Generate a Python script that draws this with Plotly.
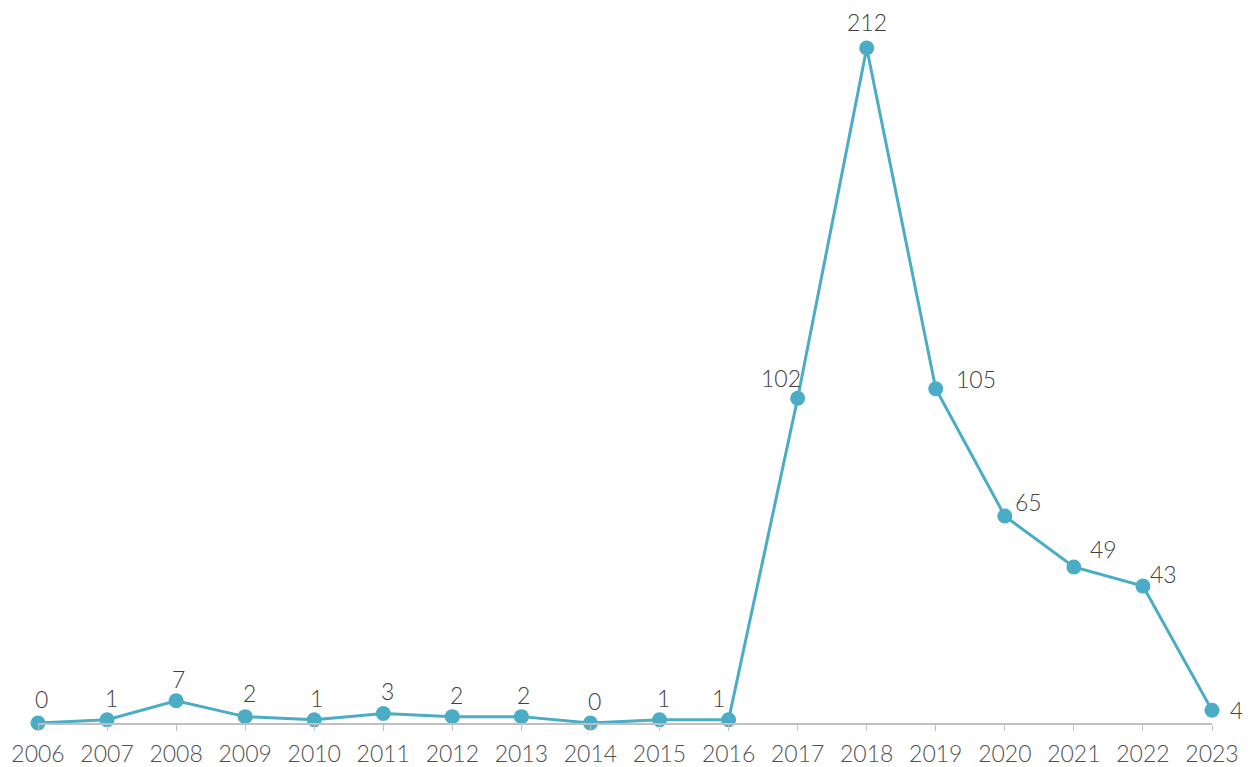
import plotly.graph_objects as go

years = list(range(2006, 2024))
values = [0, 1, 7, 2, 1, 3, 2, 2, 0, 1, 1, 102, 212, 105, 65, 49, 43, 4]
# label offsets (px) relative to each point
label_dx = [3, 4, 2, 4, 2, 4, 4, 2, 4, 4, -10, -17, 0, 40, 24, 30, 21, 24]
label_dy = [24, 22, 22, 24, 22, 22, 22, 22, 22, 22, 22, 20, 26, 10, 14, 18, 12, 0]

color = "#4bacc6"
label_color = "#404040"
tick_color = "#505050"
font_family = "Lato, 'Open Sans', sans-serif"

fig = go.Figure()
fig.add_trace(go.Scatter(
    x=years, y=values, mode="lines+markers",
    line=dict(color=color, width=3),
    marker=dict(color=color, size=15),
    cliponaxis=False,
    hoverinfo="x+y",
))

for x, y, dx, dy in zip(years, values, label_dx, label_dy):
    fig.add_annotation(x=x, y=y, text=str(y), showarrow=False,
                       xshift=dx, yshift=dy,
                       font=dict(size=23, color=label_color, family=font_family, weight=300))

# page body has an 8px margin; compensate so the plot lands where the reference has it
fig.update_layout(
    width=1242, height=759,
    margin=dict(l=30, r=38, t=12, b=44),
    paper_bgcolor="white", plot_bgcolor="white",
    showlegend=False,
    font=dict(family=font_family, color=label_color, size=23, weight=300),
)
fig.update_xaxes(
    range=[2006, 2023], tickmode="array", tickvals=years,
    ticktext=[str(y) for y in years],
    automargin=False,
    showgrid=False, zeroline=False,
    showline=True, linecolor="#bfbfbf", linewidth=1.5,
    ticks="outside", ticklen=6, tickcolor="#bfbfbf",
    ticklabelstandoff=4,
    tickfont=dict(size=23, color=tick_color, family=font_family, weight=300),
)
fig.update_yaxes(range=[0, 220.8], visible=False, showgrid=False, zeroline=False, automargin=False)

fig.write_html("out.html")
